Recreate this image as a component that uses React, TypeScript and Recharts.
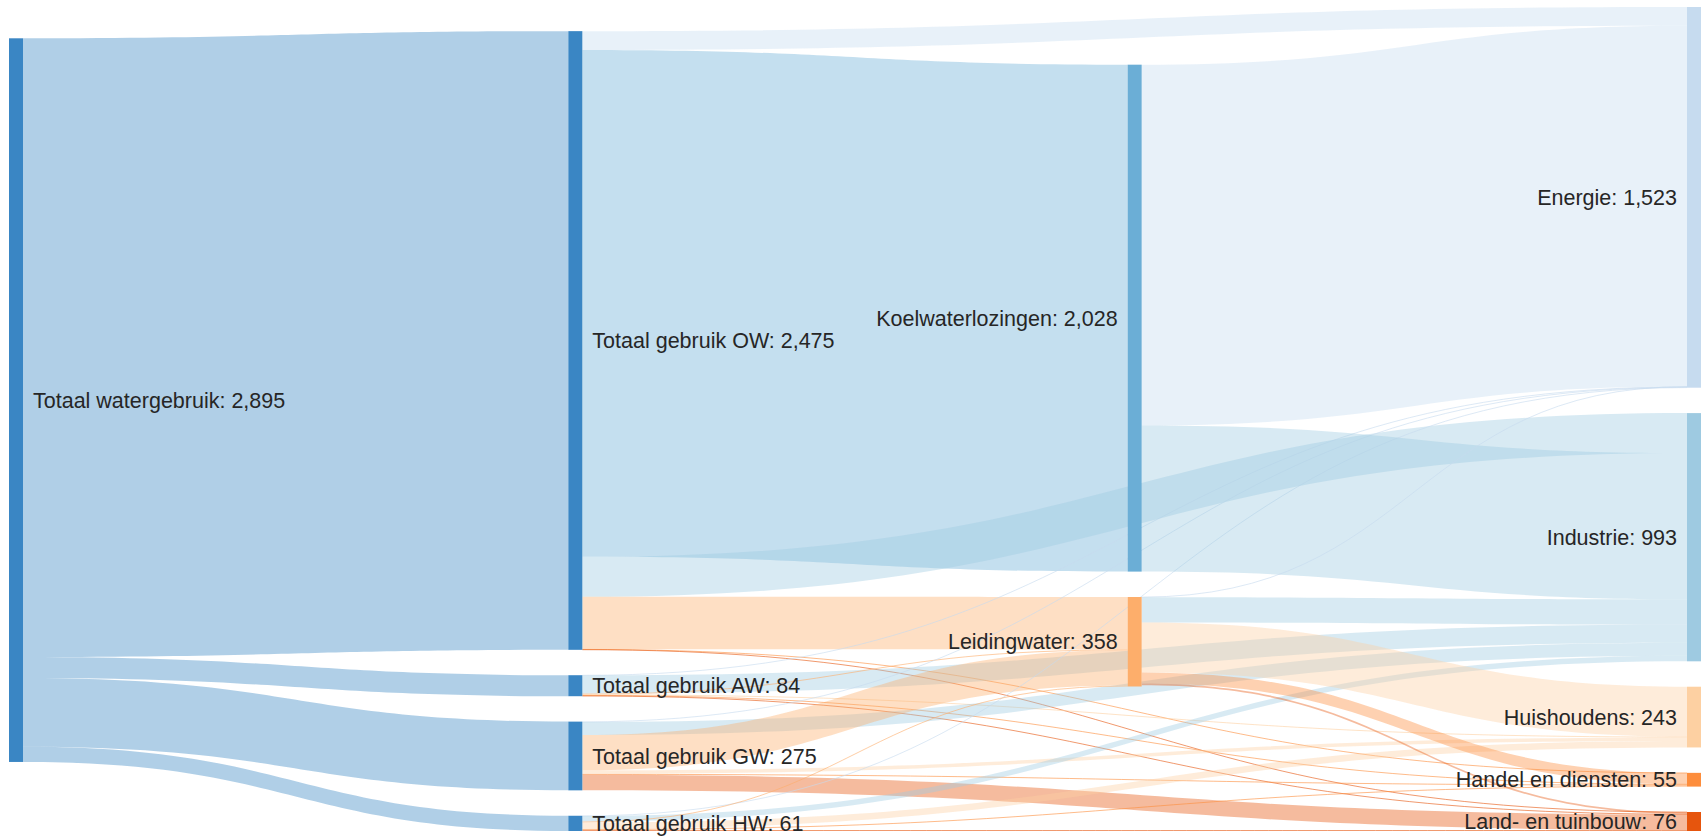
import { Sankey } from "recharts";

// nodes, in the order the chart lists them per column
const nodeNames = [
    "Totaal watergebruik",
    "Totaal gebruik OW",
    "Totaal gebruik AW",
    "Totaal gebruik GW",
    "Totaal gebruik HW",
    "Koelwaterlozingen",
    "Leidingwater",
    "Energie",
    "Industrie",
    "Huishoudens",
    "Handel en diensten",
    "Land- en tuinbouw",
];

// [from, to, value]
const sourceFlows: [string, string, number][] = [
    ["Totaal watergebruik", "Totaal gebruik OW", 2475],
    ["Totaal watergebruik", "Totaal gebruik AW", 84],
    ["Totaal watergebruik", "Totaal gebruik GW", 275],
    ["Totaal watergebruik", "Totaal gebruik HW", 61],
];

const owFlows: [string, string, number][] = [
    ["Totaal gebruik OW", "Energie", 75],
    ["Totaal gebruik OW", "Koelwaterlozingen", 2028],
    ["Totaal gebruik OW", "Industrie", 160],
    ["Totaal gebruik OW", "Leidingwater", 210],
    ["Totaal gebruik OW", "Handel en diensten", 1],
    ["Totaal gebruik OW", "Land- en tuinbouw", 1],
];

const awFlows: [string, string, number][] = [
    ["Totaal gebruik AW", "Energie", 1],
    ["Totaal gebruik AW", "Industrie", 73],
    ["Totaal gebruik AW", "Leidingwater", 3],
    ["Totaal gebruik AW", "Huishoudens", 3],
    ["Totaal gebruik AW", "Handel en diensten", 2],
    ["Totaal gebruik AW", "Land- en tuinbouw", 2],
];

const gwFlows: [string, string, number][] = [
    ["Totaal gebruik GW", "Energie", 2],
    ["Totaal gebruik GW", "Industrie", 52],
    ["Totaal gebruik GW", "Leidingwater", 141],
    ["Totaal gebruik GW", "Huishoudens", 14],
    ["Totaal gebruik GW", "Handel en diensten", 4],
    ["Totaal gebruik GW", "Land- en tuinbouw", 62],
];

const hwFlows: [string, string, number][] = [
    ["Totaal gebruik HW", "Energie", 1],
    ["Totaal gebruik HW", "Industrie", 22],
    ["Totaal gebruik HW", "Leidingwater", 4],
    ["Totaal gebruik HW", "Huishoudens", 26],
    ["Totaal gebruik HW", "Handel en diensten", 4],
    ["Totaal gebruik HW", "Land- en tuinbouw", 4],
];

const koelFlows: [string, string, number][] = [
    ["Koelwaterlozingen", "Energie", 1443],
    ["Koelwaterlozingen", "Industrie", 585],
];

const leidingFlows: [string, string, number][] = [
    ["Leidingwater", "Energie", 1],
    ["Leidingwater", "Industrie", 101],
    ["Leidingwater", "Huishoudens", 200],
    ["Leidingwater", "Handel en diensten", 44],
    ["Leidingwater", "Land- en tuinbouw", 7],
];

const nodeColors: Record<string, string> = {
    "Totaal watergebruik": "#3a86c4",
    "Totaal gebruik OW": "#3a86c4",
    "Totaal gebruik AW": "#3a86c4",
    "Totaal gebruik GW": "#3a86c4",
    "Totaal gebruik HW": "#3a86c4",
    Koelwaterlozingen: "#6baed6",
    Leidingwater: "#fdae6b",
    Energie: "#c6dbef",
    Industrie: "#9ecae1",
    Huishoudens: "#fdd0a2",
    "Handel en diensten": "#fd8d3c",
    "Land- en tuinbouw": "#e6550d",
};

const allFlows = [
    ...sourceFlows,
    ...owFlows,
    ...awFlows,
    ...gwFlows,
    ...hwFlows,
    ...koelFlows,
    ...leidingFlows,
];

const data = {
    nodes: nodeNames.map((name) => ({ name })),
    links: allFlows.map(([from, to, value]) => ({
        source: nodeNames.indexOf(from),
        target: nodeNames.indexOf(to),
        value,
    })),
};

const WIDTH = 1701;
const HEIGHT = 837;

const renderLink = (props: any) => {
    const {
        sourceX,
        sourceY,
        sourceControlX,
        targetX,
        targetY,
        targetControlX,
        linkWidth,
        payload,
    } = props;
    const color = nodeColors[payload.target.name] || "#9ecae1";
    if (linkWidth < 1.5) {
        // hairline flows: draw as a thin line so they stay visible
        return (
            <path
                d={`M${sourceX},${sourceY}C${sourceControlX},${sourceY} ${targetControlX},${targetY} ${targetX},${targetY}`}
                fill="none"
                stroke={color}
                strokeWidth={1}
                strokeOpacity={0.6}
            />
        );
    }
    const h = linkWidth / 2;
    const d =
        `M${sourceX},${sourceY - h}` +
        `C${sourceControlX},${sourceY - h} ${targetControlX},${targetY - h} ${targetX},${targetY - h}` +
        `L${targetX},${targetY + h}` +
        `C${targetControlX},${targetY + h} ${sourceControlX},${sourceY + h} ${sourceX},${sourceY + h}Z`;
    return <path d={d} fill={color} fillOpacity={0.4} stroke="none" />;
};

const renderNode = (props: any) => {
    const { x, y, width, height, payload } = props;
    const name = payload.name;
    const onLeft = x > WIDTH / 2;
    const label = `${name}: ${Math.round(payload.value).toLocaleString("en-US")}`;
    return (
        <g>
            <rect
                x={x}
                y={y}
                width={width}
                height={height}
                fill={nodeColors[name]}
                stroke="none"
            />
            <text
                x={onLeft ? x - 10 : x + width + 10}
                y={y + height / 2}
                dy="0.35em"
                textAnchor={onLeft ? "end" : "start"}
                fontFamily="Arial, 'Liberation Sans', sans-serif"
                fontSize={21.5}
                fill="#262626"
            >
                {label}
            </text>
        </g>
    );
};

const App = () => {
    return (
        <div
            style={{
                position: "absolute",
                left: 0,
                top: 0,
                width: WIDTH,
                height: HEIGHT,
                background: "#fff",
            }}
        >
            <Sankey
                width={WIDTH}
                height={HEIGHT}
                data={data}
                nodeWidth={14}
                nodePadding={25.4}
                iterations={1000}
                sort={false}
                linkCurvature={0.5}
                margin={{ top: 7, right: 0, bottom: 6, left: 9 }}
                link={renderLink}
                node={renderNode}
            />
        </div>
    );
};

export default App;
